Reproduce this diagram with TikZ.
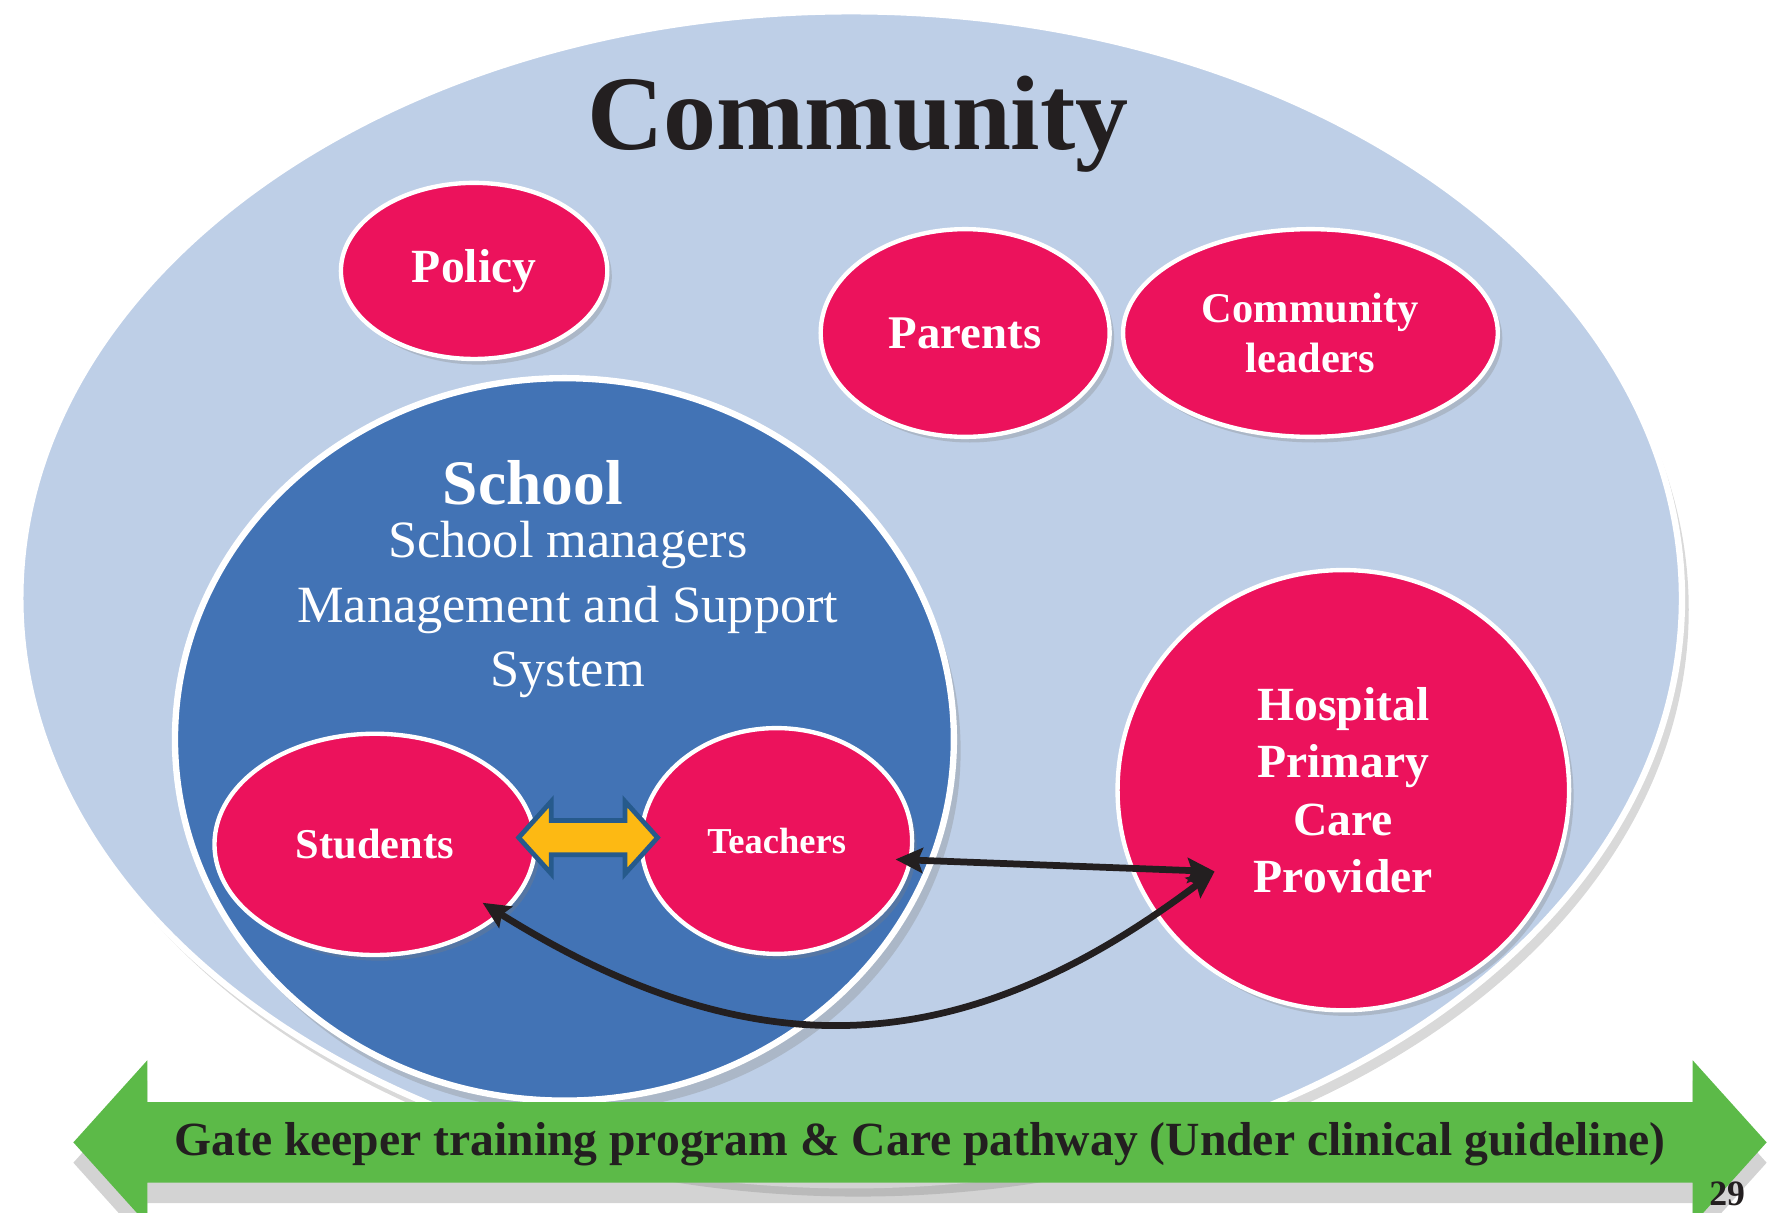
\documentclass[tikz,border=0pt]{standalone}
\usepackage{fontspec}
\setmainfont{Liberation Serif}
\usetikzlibrary{arrows.meta,positioning,shapes.geometric,shapes.arrows,shadows}
\definecolor{commblue}{RGB}{190,207,231}
\definecolor{schblue}{RGB}{66,115,181}
\definecolor{rosered}{RGB}{236,18,92}
\definecolor{gategreen}{RGB}{92,186,72}
\definecolor{linkgold}{RGB}{253,185,19}
\definecolor{linkedge}{RGB}{38,90,140}
\definecolor{ink}{RGB}{35,31,32}

\begin{document}
\begin{tikzpicture}[
    node distance=0.8mm,
    disc/.style={ellipse,fill=rosered,draw=white,line width=1.1pt,text=white,align=center,inner sep=0pt,
      drop shadow={opacity=.3,shadow xshift=.4mm,shadow yshift=-.5mm}},
    bigdisc/.style={ellipse,draw=white,line width=1.6pt,inner sep=0pt,
      drop shadow={opacity=.3,shadow xshift=.6mm,shadow yshift=-1mm}},
    link/.style={<->,draw=ink,line width=1.7pt},
    >={Stealth[length=2.4mm,width=2.2mm,inset=0.4mm]}]
    \useasboundingbox (0,0) rectangle (15.68,-10.74);
    \node[bigdisc,fill=commblue,minimum width=14.72cm,minimum height=10.4cm] (comm) at (7.54,-5.30) {};
    \node[text=ink,font=\bfseries\fontsize{26.7}{30}\selectfont] (title) at (7.60,-1.10) {Community};
    \node[disc,minimum width=2.36cm,minimum height=1.56cm,font=\bfseries\fontsize{12}{14}\selectfont] (pol) at (4.20,-2.40) {Policy};
    \node[disc,minimum width=2.56cm,minimum height=1.84cm,font=\bfseries\fontsize{11.8}{14}\selectfont] (par) at (8.55,-2.95) {Parents};
    \node[disc,right=of par,minimum width=3.32cm,minimum height=1.84cm,font=\bfseries\fontsize{10.7}{12.8}\selectfont] (lead) {Community\\leaders};
    \node[bigdisc,fill=schblue,minimum width=6.9cm,minimum height=6.4cm] (sch) at (5.00,-6.55) {};
    \node[text=white,font=\bfseries\fontsize{16}{19}\selectfont] (schT) at (4.72,-4.28) {School};
    \node[text=white,align=center,font=\fontsize{13.2}{16.2}\selectfont] (schS) at (5.03,-5.40) {School managers\\Management and Support\\System};
    \node[disc,minimum width=2.84cm,minimum height=1.96cm,font=\bfseries\fontsize{10.7}{13}\selectfont] (stu) at (3.32,-7.48) {Students};
    \node[disc,minimum width=2.40cm,minimum height=2.00cm,font=\bfseries\fontsize{9.2}{11}\selectfont] (tea) at (6.88,-7.45) {Teachers};
    \node[disc,minimum width=4.00cm,minimum height=3.90cm,font=\bfseries\fontsize{12}{14.5}\selectfont] (hos) at (11.90,-7.00) {Hospital\\Primary\\Care\\Provider};
    \node[double arrow,fill=linkgold,draw=linkedge,line width=1.2pt,inner sep=1.3mm,double arrow head extend=1.7mm,
      double arrow tip angle=96,minimum height=1.23cm] (pair) at (5.21,-7.42) {};
    \coordinate (hin) at (10.76,-7.72);

    \draw[link,shorten <=-1.5mm] (tea.-8) -- (hin);
    \draw[link,shorten <=-2mm] (stu.-29) to[out=-32,in=-143,looseness=1.1] (hin);

    \node[double arrow,fill=gategreen,double arrow head extend=3.7mm,double arrow tip angle=96,minimum height=15cm,
      inner xsep=1mm,inner ysep=1.35mm,text height=3.3mm,text depth=1mm,text=ink,font=\bfseries\fontsize{12}{14}\selectfont,
      drop shadow={opacity=.35,shadow xshift=0mm,shadow yshift=-1.8mm}] (gate) at (8.15,-10.12)
      {Gate keeper training program \& Care pathway (Under clinical guideline)};
    \node[text=ink,font=\bfseries\fontsize{9}{10}\selectfont] (page) at (15.30,-10.58) {29};
\end{tikzpicture}
\end{document}
